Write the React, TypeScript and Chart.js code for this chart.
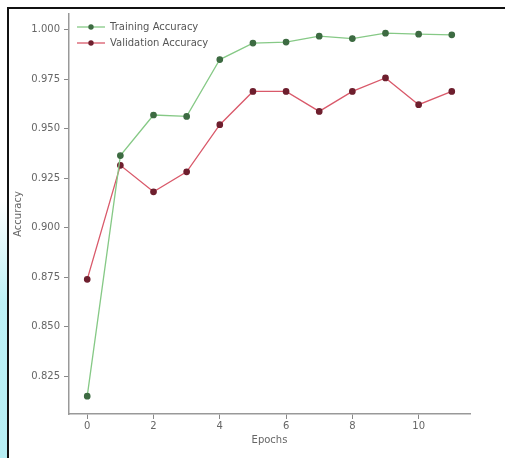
import React, { useEffect, useRef } from "react";
import { Chart, registerables } from "chart.js";

Chart.register(...registerables);

const epochs = [0, 1, 2, 3, 4, 5, 6, 7, 8, 9, 10, 11];
const trainingAccuracy = [0.815, 0.9365, 0.957, 0.9563, 0.985, 0.9933, 0.9938, 0.9968, 0.9956, 0.9983, 0.9978, 0.9975];
const validationAccuracy = [0.874, 0.9316, 0.9182, 0.9283, 0.9521, 0.9689, 0.9689, 0.9588, 0.9689, 0.9757, 0.9622, 0.9689];
const xTicks = [0, 2, 4, 6, 8, 10];
const yTicks = [0.825, 0.85, 0.875, 0.9, 0.925, 0.95, 0.975, 1.0];
const seriesNames = ["Training Accuracy", "Validation Accuracy"];

const FONT = "'DejaVu Sans', sans-serif";

const legendPlugin = {
  id: "innerLegend",
  afterDatasetsDraw(chart: any) {
    const ctx = chart.ctx;
    const area = chart.chartArea;
    const x0 = area.left + 8;
    const rows = [area.top + 13, area.top + 29];
    chart.data.datasets.forEach((ds: any, i: number) => {
      const y = rows[i];
      ctx.save();
      ctx.strokeStyle = ds.borderColor;
      ctx.lineWidth = 1.3;
      ctx.beginPath();
      ctx.moveTo(x0, y);
      ctx.lineTo(x0 + 28, y);
      ctx.stroke();
      ctx.fillStyle = ds.pointBackgroundColor;
      ctx.beginPath();
      ctx.arc(x0 + 14, y, 2.7, 0, Math.PI * 2);
      ctx.fill();
      ctx.fillStyle = "#555";
      ctx.font = `10px ${FONT}`;
      ctx.textBaseline = "middle";
      ctx.textAlign = "left";
      ctx.fillText(ds.label, x0 + 33, y);
      ctx.restore();
    });
  },
};

export default function App() {
  const ref = useRef<HTMLCanvasElement>(null);
  useEffect(() => {
    if (!ref.current) return;
    const chart = new Chart(ref.current, {
      type: "line",
      data: {
        datasets: [
          {
            label: seriesNames[0],
            data: epochs.map((e, i) => ({ x: e, y: trainingAccuracy[i] })),
            borderColor: "#86c986",
            backgroundColor: "#86c986",
            pointBackgroundColor: "#3d6b42",
            pointBorderColor: "#3d6b42",
            pointRadius: 2.7,
            borderWidth: 1.3,
            tension: 0,
          },
          {
            label: seriesNames[1],
            data: epochs.map((e, i) => ({ x: e, y: validationAccuracy[i] })),
            borderColor: "#d9596a",
            backgroundColor: "#d9596a",
            pointBackgroundColor: "#6e1f2e",
            pointBorderColor: "#6e1f2e",
            pointRadius: 2.7,
            borderWidth: 1.3,
            tension: 0,
          },
        ],
      },
      options: {
        responsive: false,
        animation: false,
        layout: { padding: { left: 8, top: 14, right: 35, bottom: 0 } },
        plugins: { legend: { display: false }, tooltip: { enabled: false } },
        scales: {
          x: {
            type: "linear",
            min: -0.55,
            max: 11.55,
            afterFit: (s: any) => { s.height = 44; },
            afterBuildTicks: (s: any) => { s.ticks = xTicks.map((v) => ({ value: v })); },
            grid: { display: true, drawOnChartArea: false, drawTicks: true, tickLength: 5, color: "#888", tickWidth: 1 },
            border: { display: true, color: "#999", width: 1.5 },
            ticks: { color: "#666", font: { family: FONT, size: 10 }, padding: 1, callback: (v: any) => String(v) },
            title: { display: true, text: "Epochs", color: "#666", font: { family: FONT, size: 10 }, padding: { top: 2, bottom: 12 } },
          },
          y: {
            type: "linear",
            min: 0.806,
            max: 1.008,
            afterFit: (s: any) => { s.width = 61; },
            afterBuildTicks: (s: any) => { s.ticks = yTicks.map((v) => ({ value: v })); },
            grid: { display: true, drawOnChartArea: false, drawTicks: true, tickLength: 5, color: "#888", tickWidth: 1 },
            border: { display: true, color: "#999", width: 1.5 },
            ticks: { color: "#666", font: { family: FONT, size: 10 }, padding: 4, callback: (v: any) => Number(v).toFixed(3) },
            title: { display: true, text: "Accuracy", color: "#666", font: { family: FONT, size: 10 }, padding: { top: 4, bottom: 4 } },
          },
        },
      },
      plugins: [legendPlugin],
    } as any);
    return () => chart.destroy();
  }, []);

  return (
    <div style={{ position: "fixed", left: 0, top: 0, width: 505, height: 458, background: "#fff", overflow: "hidden" }}>
      <div style={{ position: "absolute", left: 0, top: 200, width: 8, height: 258, background: "linear-gradient(to bottom, rgba(190,240,246,0), #bdf1f6 40%, #b6eef4)" }} />
      <canvas ref={ref} width={505} height={458} style={{ position: "absolute", left: 0, top: 0 }} />
      <div style={{ position: "absolute", left: 8, top: 7, width: 497, height: 2, background: "#111" }} />
      <div style={{ position: "absolute", left: 7, top: 7, width: 2, height: 451, background: "#111" }} />
    </div>
  );
}
